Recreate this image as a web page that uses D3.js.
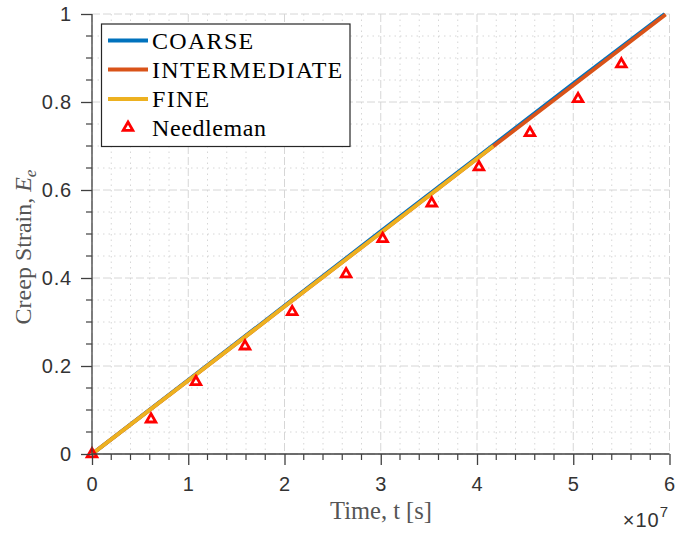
<!DOCTYPE html>
<html>
<head>
<meta charset="utf-8">
<script src="https://cdn.jsdelivr.net/npm/d3@7"></script>
<style>
  html, body { margin: 0; padding: 0; background: #fff; }
  svg { display: block; }
</style>
</head>
<body>
<svg id="chart" width="678" height="534"></svg>
<script>
// Creep strain vs. time for three mesh refinements and the Needleman reference
const coarseTime   = [0, 1e7, 2e7, 3e7, 4e7, 5e7, 5.95e7];
const coarseStrain = [0, 0.168, 0.337, 0.506, 0.674, 0.842, 1.0];
const interTime    = [0, 1e7, 2e7, 3e7, 4e7, 5e7, 5.96e7];
const interStrain  = [0, 0.167, 0.335, 0.503, 0.671, 0.838, 0.999];
const fineTime     = [0, 1e7, 2e7, 3e7, 4e7, 4.17e7];
const fineStrain   = [0, 0.167, 0.335, 0.503, 0.671, 0.70];
const needleTime   = [0, 0.613e7, 1.08e7, 1.59e7, 2.08e7, 2.64e7, 3.02e7, 3.53e7, 4.02e7, 4.55e7, 5.05e7, 5.50e7];
const needleStrain = [0, 0.079, 0.164, 0.245, 0.323, 0.409, 0.489, 0.570, 0.652, 0.730, 0.807, 0.886];
const xTicks = [0, 1, 2, 3, 4, 5, 6];
const yTicks = [0, 0.2, 0.4, 0.6, 0.8, 1];
const yTickLabels = ["0", "0.2", "0.4", "0.6", "0.8", "1"];

const series = [
  { name: "COARSE", t: coarseTime, e: coarseStrain, color: "#0072BD" },
  { name: "INTERMEDIATE", t: interTime, e: interStrain, color: "#D95319" },
  { name: "FINE", t: fineTime, e: fineStrain, color: "#EDB120" }
];

const svg = d3.select("#chart");
const pLeft = 92, pRight = 669.5, pTop = 14, pBottom = 454;
const x = d3.scaleLinear().domain([0, 6e7]).range([pLeft, pRight]);
const y = d3.scaleLinear().domain([0, 1]).range([pBottom, pTop]);

const axisColor = "#404040";
const gridColor = "#d6d6d6";
const sansFont = "Liberation Sans, Arial, sans-serif";
const serifFont = "Liberation Serif, Times New Roman, serif";

// minor grid (dotted)
const g = svg.append("g");
const xMinor = d3.range(0, 6.0001, 0.2).map(v => v * 1e7).filter((v, i) => i % 5 !== 0);
const yMinor = d3.range(0, 1.0001, 0.05).filter((v, i) => i % 4 !== 0);
g.append("g").selectAll("line").data(xMinor).join("line")
  .attr("x1", d => x(d)).attr("x2", d => x(d)).attr("y1", pTop).attr("y2", pBottom)
  .attr("stroke", gridColor).attr("stroke-width", 1).attr("stroke-dasharray", "1.5,4");
g.append("g").selectAll("line").data(yMinor).join("line")
  .attr("x1", pLeft).attr("x2", pRight).attr("y1", d => y(d)).attr("y2", d => y(d))
  .attr("stroke", gridColor).attr("stroke-width", 1).attr("stroke-dasharray", "1.5,4");
// major grid (dashed)
g.append("g").selectAll("line").data(xTicks).join("line")
  .attr("x1", d => x(d * 1e7)).attr("x2", d => x(d * 1e7)).attr("y1", pTop).attr("y2", pBottom)
  .attr("stroke", gridColor).attr("stroke-width", 1).attr("stroke-dasharray", "8,3");
g.append("g").selectAll("line").data(yTicks).join("line")
  .attr("x1", pLeft).attr("x2", pRight).attr("y1", d => y(d)).attr("y2", d => y(d))
  .attr("stroke", gridColor).attr("stroke-width", 1).attr("stroke-dasharray", "8,3");

// data lines
const line = d3.line().x(d => x(d[0])).y(d => y(d[1]));
series.forEach(s => {
  svg.append("path")
    .datum(s.t.map((t, i) => [t, s.e[i]]))
    .attr("d", line).attr("fill", "none")
    .attr("stroke", s.color).attr("stroke-width", 3.8)
    .attr("stroke-linejoin", "round");
});

// Needleman markers
const tri = d3.symbol().type(d3.symbolTriangle).size(40);
svg.append("g").selectAll("path").data(needleTime.map((t, i) => [t, needleStrain[i]]))
  .join("path")
  .attr("d", tri)
  .attr("transform", d => `translate(${x(d[0])},${y(d[1])})`)
  .attr("fill", "none").attr("stroke", "#ff0000").attr("stroke-width", 2.8);

// axes
const xAxis = d3.axisBottom(x).tickValues(xTicks.map(v => v * 1e7))
  .tickFormat(d => d3.format("d")(d / 1e7)).tickSize(11).tickPadding(12);
const yAxis = d3.axisLeft(y).tickValues(yTicks)
  .tickFormat((d, i) => yTickLabels[i]).tickSize(11).tickPadding(9);

// minor ticks
svg.append("g").selectAll("line").data(xMinor).join("line")
  .attr("x1", d => x(d)).attr("x2", d => x(d)).attr("y1", pBottom).attr("y2", pBottom + 6)
  .attr("stroke", axisColor).attr("stroke-width", 1.2);
svg.append("g").selectAll("line").data(yMinor).join("line")
  .attr("x1", pLeft - 6).attr("x2", pLeft).attr("y1", d => y(d)).attr("y2", d => y(d))
  .attr("stroke", axisColor).attr("stroke-width", 1.2);

const gx = svg.append("g").attr("transform", `translate(0,${pBottom})`).call(xAxis);
const gy = svg.append("g").attr("transform", `translate(${pLeft},0)`).call(yAxis);
[gx, gy].forEach(a => {
  a.select(".domain").attr("stroke", axisColor).attr("stroke-width", 1.3);
  a.selectAll(".tick line").attr("stroke", axisColor).attr("stroke-width", 1.3);
  a.selectAll(".tick text").attr("fill", "#333").attr("font-family", sansFont)
    .attr("font-size", 20).attr("letter-spacing", 0.8);
});
gx.select(".domain").attr("d", `M${pLeft},0H${pRight}`);
gy.select(".domain").attr("d", `M0,${pBottom}V${pTop}`);

// exponent
const ex = svg.append("text").attr("x", 669).attr("y", 527).attr("text-anchor", "end")
  .attr("fill", "#333").attr("font-family", sansFont).attr("font-size", 20).attr("letter-spacing", 1);
ex.append("tspan").text("×10");
ex.append("tspan").attr("dy", -10).attr("font-size", 15).text("7");

// axis labels
svg.append("text").attr("x", 381).attr("y", 519).attr("text-anchor", "middle")
  .attr("fill", "#555").attr("font-family", serifFont).attr("font-size", 24.5)
  .text("Time, t [s]");
const yl = svg.append("text").attr("transform", `translate(31,247) rotate(-90)`)
  .attr("text-anchor", "middle").attr("fill", "#555")
  .attr("font-family", serifFont).attr("font-size", 24);
yl.append("tspan").text("Creep Strain, ");
yl.append("tspan").attr("font-style", "italic").text("E");
yl.append("tspan").attr("font-style", "italic").attr("font-size", 17).attr("dy", 5).text("e");

// legend
const lg = svg.append("g");
lg.append("rect").attr("x", 101.5).attr("y", 24).attr("width", 248.5).attr("height", 122.5)
  .attr("fill", "#fff").attr("stroke", "#262626").attr("stroke-width", 1.2);
const rowY = [40.5, 69.5, 99, 127.5];
series.forEach((s, i) => {
  lg.append("line").attr("x1", 108).attr("x2", 148).attr("y1", rowY[i]).attr("y2", rowY[i])
    .attr("stroke", s.color).attr("stroke-width", 3.8);
});
lg.append("path").attr("d", tri).attr("transform", `translate(128,${rowY[3]})`)
  .attr("fill", "none").attr("stroke", "#ff0000").attr("stroke-width", 2.8);
const names = ["COARSE", "INTERMEDIATE", "FINE", "Needleman"];
names.forEach((n, i) => {
  lg.append("text").attr("x", 152).attr("y", rowY[i] + 8)
    .attr("font-family", serifFont).attr("font-size", 24).attr("fill", "#000")
    .attr("letter-spacing", i === 3 ? 0.6 : 1.3)
    .text(n);
});
</script>
</body>
</html>
